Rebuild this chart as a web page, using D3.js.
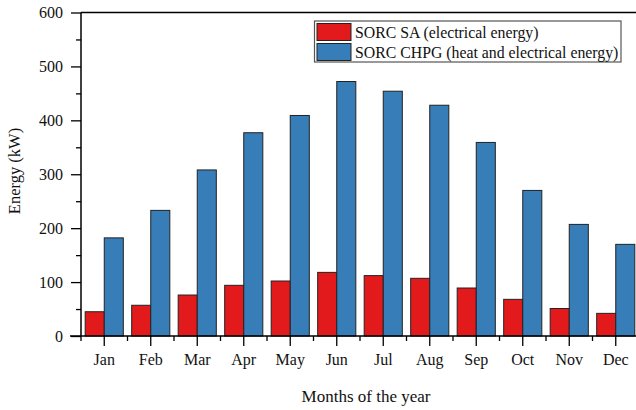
<!DOCTYPE html>
<html><head><meta charset="utf-8">
<script src="https://cdn.jsdelivr.net/npm/d3@7"></script>
<style>body{margin:0;background:#fff}svg{display:block}text{font-family:"Liberation Serif","Times New Roman",serif;fill:#111}</style>
</head><body><svg id="c" width="636" height="410"></svg>
<script>
const months = ["Jan","Feb","Mar","Apr","May","Jun","Jul","Aug","Sep","Oct","Nov","Dec"];
const seriesNames = ["SORC SA (electrical energy)","SORC CHPG (heat and electrical energy)"];
const sorcSA = [45,57,76,94,102,118,112,107,89,68,51,42];
const sorcCHPG = [182,233,308,377,409,472,454,428,359,270,207,170];
const yTicks = [0,100,200,300,400,500,600];
const yMinor = [50,150,250,350,450,550];
const colors = ["#e31a1c","#377eb8"];

const svg = d3.select("#c");
const pL = 81, pR = 639, pT = 12.5, pB = 336;
const x = d3.scaleBand().domain(months).range([pL,pR]).paddingInner(0.18).paddingOuter(0.09);
const xs = d3.scaleBand().domain([0,1]).range([0,x.bandwidth()]);
const y = d3.scaleLinear().domain([0,600]).range([pB,pT]);
const series = [sorcSA, sorcCHPG];

// bars
series.forEach((vals,si)=>{
  svg.append("g").selectAll("rect").data(vals).join("rect")
    .attr("x",(d,i)=>x(months[i])+xs(si))
    .attr("y",d=>y(d))
    .attr("width",xs.bandwidth())
    .attr("height",d=>y(0)-y(d))
    .attr("fill",colors[si])
    .attr("stroke","#222").attr("stroke-width",1);
});

// y axis
const ya = svg.append("g").attr("transform",`translate(${pL},0)`)
  .call(d3.axisLeft(y).tickValues(yTicks).tickSize(10).tickPadding(8).tickFormat(d3.format("d")));
ya.select(".domain").remove();
ya.selectAll("line").attr("stroke","#000").attr("stroke-width",1.3);
ya.selectAll("text").style("font-size","16px").attr("fill","#111");
const ym = svg.append("g").attr("transform",`translate(${pL},0)`)
  .call(d3.axisLeft(y).tickValues(yMinor).tickSize(5).tickFormat(""));
ym.select(".domain").remove();
ym.selectAll("line").attr("stroke","#000").attr("stroke-width",1.3);
svg.append("line").attr("x1",pL).attr("x2",pL).attr("y1",pT).attr("y2",pB).attr("stroke","#000").attr("stroke-width",1.5);

// top line
svg.append("line").attr("x1",pL).attr("x2",636).attr("y1",pT).attr("y2",pT).attr("stroke","#000").attr("stroke-width",1.5);

// x axis
const xa = svg.append("g").attr("transform",`translate(0,${pB})`)
  .call(d3.axisBottom(x).tickSize(10).tickPadding(8));
xa.select(".domain").remove();
xa.selectAll("line").attr("stroke","#000").attr("stroke-width",1.3);
xa.selectAll("text").style("font-size","16px").attr("fill","#111");
const bounds = d3.range(months.length+1).map(i=>pL + i*x.step());
svg.append("g").selectAll("line").data(bounds).join("line")
  .attr("x1",d=>d).attr("x2",d=>d).attr("y1",pB).attr("y2",pB+5)
  .attr("stroke","#000").attr("stroke-width",1.3);
svg.append("line").attr("x1",70).attr("x2",636).attr("y1",pB).attr("y2",pB).attr("stroke","#000").attr("stroke-width",1.5);

// titles
svg.append("text").attr("x",366).attr("y",402).attr("text-anchor","middle").style("font-size","17px").text("Months of the year");
svg.append("text").attr("transform","translate(20,171) rotate(-90)").attr("text-anchor","middle").style("font-size","16.5px").text("Energy (kW)");

// legend
const lg = svg.append("g");
lg.append("rect").attr("x",314.5).attr("y",21).attr("width",306.5).attr("height",41).attr("fill","#fff").attr("stroke","#555").attr("stroke-width",1.2);
seriesNames.forEach((n,i)=>{
  lg.append("rect").attr("x",317).attr("y",23.5+i*20).attr("width",34).attr("height",17).attr("fill",colors[i]).attr("stroke","#222").attr("stroke-width",1);
  lg.append("text").attr("x",355).attr("y",37.5+i*20).style("font-size",("15.8px")).text(n);
});
</script></body></html>
